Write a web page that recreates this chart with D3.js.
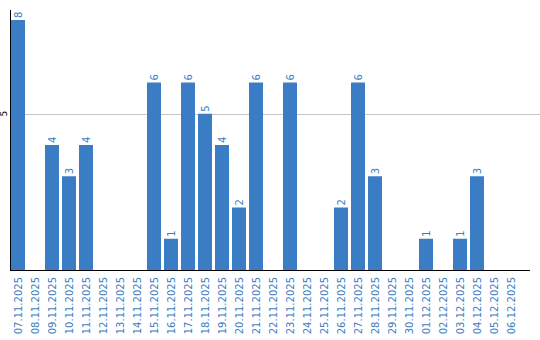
<!DOCTYPE html>
<html>
<head>
<meta charset="utf-8">
<script src="https://cdn.jsdelivr.net/npm/d3@7"></script>
<style>
  html, body { margin: 0; padding: 0; background: #fff; }
  svg { display: block; font-family: Verdana, "DejaVu Sans", sans-serif; }
</style>
</head>
<body>
<svg id="chart" width="540" height="340"></svg>
<script>
const days = [
  '07.11.2025', '08.11.2025', '09.11.2025', '10.11.2025', '11.11.2025',
  '12.11.2025', '13.11.2025', '14.11.2025', '15.11.2025', '16.11.2025',
  '17.11.2025', '18.11.2025', '19.11.2025', '20.11.2025', '21.11.2025',
  '22.11.2025', '23.11.2025', '24.11.2025', '25.11.2025', '26.11.2025',
  '27.11.2025', '28.11.2025', '29.11.2025', '30.11.2025', '01.12.2025',
  '02.12.2025', '03.12.2025', '04.12.2025', '05.12.2025', '06.12.2025'
];
const counts = [
  8, 0, 4, 3, 4, 0, 0, 0, 6, 1,
  6, 5, 4, 2, 6, 0, 6, 0, 0, 2,
  6, 3, 0, 0, 1, 0, 1, 3, 0, 0
];
const yTicks = [5];

const blue = '#3b7dc4';
const svg = d3.select('#chart');
const plotLeft = 11, plotRight = 530, plotTop = 20, plotBottom = 270;

const x = d3.scaleBand()
  .domain(days)
  .range([plotLeft, 518])
  .paddingInner(3 / 17)
  .paddingOuter(0);

const y = d3.scaleLinear().domain([0, 8]).range([plotBottom, plotTop]);

const rows = counts.map((v, i) => ({ day: days[i], v })).filter(d => d.v > 0);

// gridline
svg.append('g')
  .selectAll('line')
  .data(yTicks)
  .join('line')
  .attr('x1', plotLeft).attr('x2', 540)
  .attr('y1', d => Math.round(y(d)) + 0.5).attr('y2', d => Math.round(y(d)) + 0.5)
  .attr('stroke', '#c8c8c8');

svg.append('g')
  .selectAll('text')
  .data(yTicks)
  .join('text')
  .attr('transform', d => `translate(7,${y(d)}) rotate(-90)`)
  .attr('text-anchor', 'middle')
  .attr('font-size', 9)
  .attr('fill', '#000')
  .text(d => d);

// bars
svg.append('g')
  .selectAll('rect')
  .data(rows)
  .join('rect')
  .attr('x', d => x(d.day))
  .attr('width', x.bandwidth())
  .attr('y', d => y(d.v))
  .attr('height', d => y(0) - y(d.v))
  .attr('fill', blue);

// value labels
svg.append('g')
  .selectAll('text')
  .data(rows)
  .join('text')
  .attr('transform', d => `translate(${x(d.day) + x.bandwidth() / 2 + 3.5},${y(d.v) - 2}) rotate(-90)`)
  .attr('font-size', 10)
  .attr('fill', blue)
  .text(d => d.v);

// axis lines
svg.append('line')
  .attr('x1', plotLeft - 0.5).attr('x2', plotLeft - 0.5)
  .attr('y1', 10).attr('y2', plotBottom + 1)
  .attr('stroke', '#000');
svg.append('line')
  .attr('x1', plotLeft - 1).attr('x2', plotRight)
  .attr('y1', plotBottom + 0.5).attr('y2', plotBottom + 0.5)
  .attr('stroke', '#000');

// x labels
svg.append('g')
  .selectAll('text')
  .data(days)
  .join('text')
  .attr('transform', d => `translate(${x(d) + x.bandwidth() / 2 + 3.5},${plotBottom + 7}) rotate(-90)`)
  .attr('text-anchor', 'end')
  .attr('font-size', 10)
  .attr('fill', blue)
  .text(d => d);
</script>
</body>
</html>
